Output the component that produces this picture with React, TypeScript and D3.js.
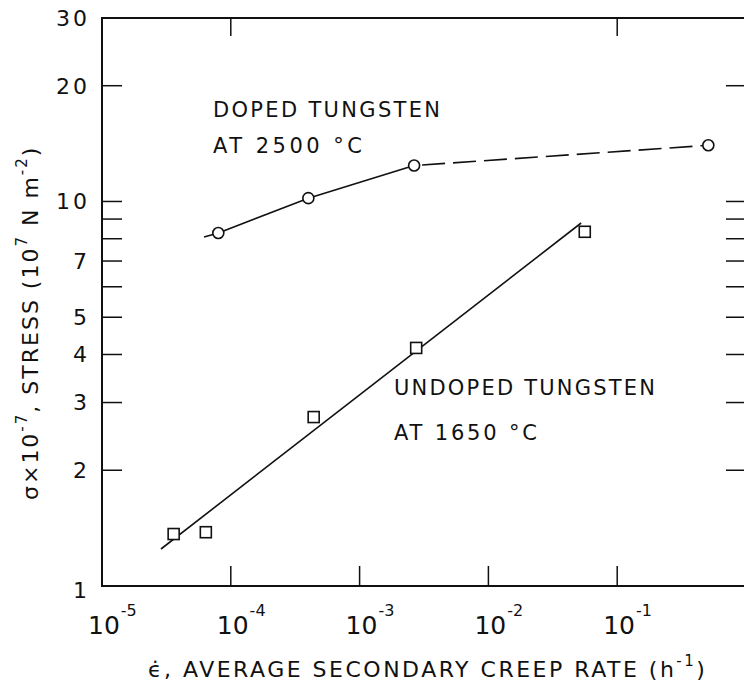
import React from "react";
import * as d3 from "d3";

// ---- data ----
const dopedRate = [8.0e-5, 4.0e-4, 2.65e-3, 0.51];
const dopedStress = [8.28, 10.2, 12.4, 14.0];
const dopedFitRate = [6.2e-5, 8.0e-5, 4.0e-4, 2.65e-3];
const dopedFitStress = [8.08, 8.28, 10.2, 12.4];
const dopedDashRate = [2.65e-3, 0.51];
const dopedDashStress = [12.4, 14.0];

const undopedRate = [3.6e-5, 6.4e-5, 4.4e-4, 2.75e-3, 5.6e-2];
const undopedStress = [1.365, 1.38, 2.75, 4.16, 8.34];
const undopedFitRate = [2.87e-5, 5.25e-2];
const undopedFitStress = [1.248, 8.79];

const xTickValues = [1e-5, 1e-4, 1e-3, 1e-2, 1e-1];
const xTickExponents = ["-5", "-4", "-3", "-2", "-1"];
const xBottomTicks = [1e-4, 1e-3, 1e-2, 1e-1];
const xTopTicks = [1e-4, 1e-1];
const yTickLabels = [30, 20, 10, 7, 5, 4, 3, 2, 1];
const yTickMarks = [20, 10, 9, 8, 7, 6, 5, 4, 3, 2];

const W = 744;
const H = 683;
const FONT = "'DejaVu Sans', 'Liberation Sans', sans-serif";

export default function App() {
  const x = d3.scaleLog().domain([1e-5, 1]).range([102, 746]);
  const y = d3.scaleLog().domain([1, 30]).range([586, 18]);
  const left = x(1e-5);
  const right = x(1);
  const top = y(30);
  const bottom = y(1);

  const line = d3
    .line<[number, number]>()
    .x((d) => x(d[0]))
    .y((d) => y(d[1]));

  const zip = (a: number[], b: number[]) =>
    a.map((v, i) => [v, b[i]] as [number, number]);

  const tickLen = 20;

  return (
    <svg
      width={W}
      height={H}
      style={{ position: "absolute", left: 0, top: 0, display: "block", background: "#fff" }}
      fontFamily={FONT}
    >
      <rect x={0} y={0} width={W} height={H} fill="#fff" />
      {/* frame */}
      <path
        d={`M${right},${top}H${left}V${bottom}H${right}`}
        fill="none"
        stroke="#111"
        strokeWidth={2}
      />
      {/* left & right ticks */}
      {yTickMarks.map((v) => (
        <g key={"yt" + v}>
          <line x1={left} x2={left + tickLen} y1={y(v)} y2={y(v)} stroke="#111" strokeWidth={1.5} />
          <line x1={right - tickLen} x2={right} y1={y(v)} y2={y(v)} stroke="#111" strokeWidth={1.5} />
        </g>
      ))}
      {/* bottom ticks */}
      {xBottomTicks.map((v) => (
        <line key={"xb" + v} x1={x(v)} x2={x(v)} y1={bottom} y2={bottom - tickLen} stroke="#111" strokeWidth={1.5} />
      ))}
      {/* top ticks */}
      {xTopTicks.map((v) => (
        <line key={"xt" + v} x1={x(v)} x2={x(v)} y1={top} y2={top + 18} stroke="#111" strokeWidth={1.5} />
      ))}
      {/* y tick labels */}
      {yTickLabels.map((v) => (
        <text
          key={"yl" + v}
          x={90}
          y={y(v) + (v === 1 ? 4 : 0)}
          dy="0.36em"
          textAnchor="end"
          fontSize={22}
          letterSpacing={3}
          fill="#111"
        >
          {v}
        </text>
      ))}
      {/* x tick labels */}
      {xTickValues.map((v, i) => (
        <text key={"xl" + v} x={x(v) - 14} y={634} fontSize={25} fill="#111">
          <tspan>10</tspan>
          <tspan dy={-18} fontSize={16} dx={1}>
            {xTickExponents[i]}
          </tspan>
        </text>
      ))}
      {/* x axis title */}
      <text x={148} y={677} fontSize={22} fill="#111" letterSpacing={2.5}>
        <tspan>ϵ̇, AVERAGE SECONDARY CREEP RATE (h</tspan>
        <tspan dy={-11} fontSize={15}>-1</tspan>
        <tspan dy={11}>)</tspan>
      </text>
      {/* y axis title */}
      <g transform={`translate(38,500) rotate(-90)`}>
        <text x={0} y={0} fontSize={22} fill="#111" letterSpacing={2}>
          <tspan>σ×10</tspan>
          <tspan dy={-11} fontSize={15}>-7</tspan>
          <tspan dy={11}>, STRESS (10</tspan>
          <tspan dy={-11} fontSize={15}>7</tspan>
          <tspan dy={11}> N m</tspan>
          <tspan dy={-11} fontSize={15}>-2</tspan>
          <tspan dy={11}>)</tspan>
        </text>
      </g>

      {/* fitted lines */}
      <path d={line(zip(dopedFitRate, dopedFitStress)) || ""} fill="none" stroke="#111" strokeWidth={1.6} />
      <path
        d={line(zip(dopedDashRate, dopedDashStress)) || ""}
        fill="none"
        stroke="#111"
        strokeWidth={1.6}
        strokeDasharray="23 8"
        strokeDashoffset={-8}
      />
      <path d={line(zip(undopedFitRate, undopedFitStress)) || ""} fill="none" stroke="#111" strokeWidth={1.6} />

      {/* markers */}
      {dopedRate.map((r, i) => (
        <circle key={"c" + i} cx={x(r)} cy={y(dopedStress[i])} r={5.5} fill="#fff" stroke="#111" strokeWidth={1.6} />
      ))}
      {undopedRate.map((r, i) => (
        <rect
          key={"s" + i}
          x={x(r) - 5.5}
          y={y(undopedStress[i]) - 5.5}
          width={11}
          height={11}
          fill="#fff"
          stroke="#111"
          strokeWidth={1.6}
        />
      ))}

      {/* annotations */}
      <text x={213} y={117} fontSize={21} fill="#111" textLength={227} lengthAdjust="spacing">
        DOPED TUNGSTEN
      </text>
      <text x={213} y={153} fontSize={21} fill="#111" textLength={149} lengthAdjust="spacing">
        AT 2500 °C
      </text>
      <text x={394} y={395} fontSize={21} fill="#111" textLength={261} lengthAdjust="spacing">
        UNDOPED TUNGSTEN
      </text>
      <text x={394} y={440} fontSize={21} fill="#111" textLength={143} lengthAdjust="spacing">
        AT 1650 °C
      </text>
    </svg>
  );
}
